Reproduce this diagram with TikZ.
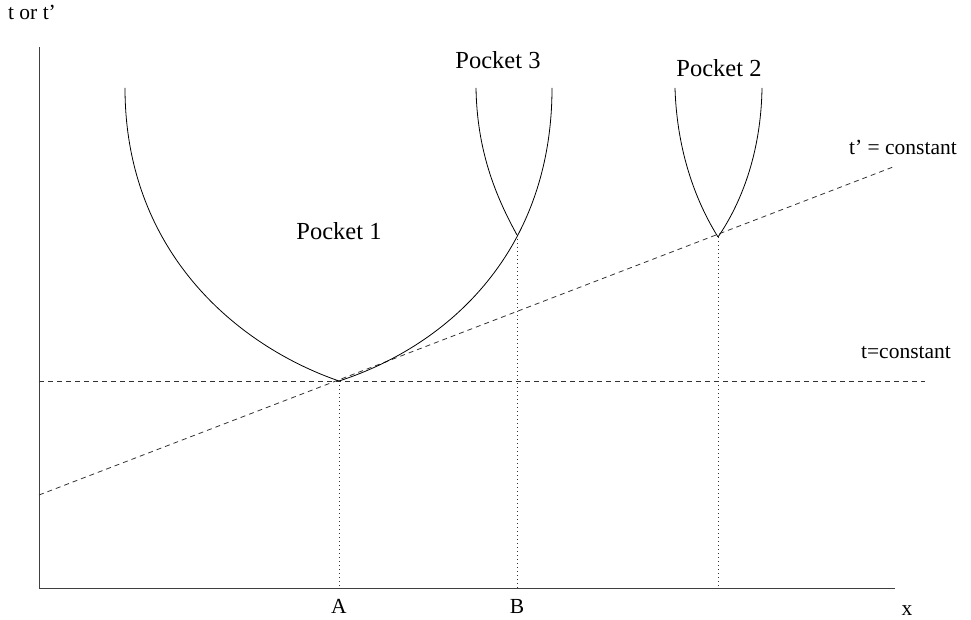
\documentclass[tikz,border=0pt]{standalone}
\usepackage{fontspec}
\setmainfont{Liberation Serif}
\begin{document}
\begin{tikzpicture}[x=1pt,y=-1pt,
  axis/.style={draw=black!75, line width=0.9pt},
  wall/.style={draw=black, line width=0.8pt},
  dashline/.style={draw=black!80, line width=0.8pt, dash pattern=on 5pt off 4pt},
  dotline/.style={draw=black!80, line width=0.8pt, dash pattern=on 0.8pt off 3.2pt},
  small/.style={font=\fontsize{21.5}{24}\selectfont, inner sep=0pt},
  big/.style={font=\fontsize{24.5}{28}\selectfont, inner sep=0pt}]
\useasboundingbox (0,0) rectangle (971,620);
% key points
\coordinate (O) at (39,588);
\coordinate (Ytop) at (39,47);
\coordinate (Xend) at (895,588);
\coordinate (VA) at (339,381);
\coordinate (VB) at (517,235);
\coordinate (V2) at (718,237);
\coordinate (Afoot) at (339,588);
\coordinate (Bfoot) at (517,588);
\coordinate (Cfoot) at (718,588);
\coordinate (tL) at (39,381);
\coordinate (tR) at (925,381);
\coordinate (pL) at (39,495);
\coordinate (pR) at (893,167);
% axes
\draw[axis] (Ytop) -- (O) -- (Xend);
% constant-time lines
\draw[dashline] (tL) -- (tR);
\draw[dashline] (pL) -- (pR);
% dotted drops
\draw[dotline] (VA) -- (Afoot);
\draw[dotline] (VB) -- (Bfoot);
\draw[dotline] (V2) -- (Cfoot);
% Pocket 1
\draw[wall] (125,88) .. controls (125,250) and (235,345) .. (VA);
\draw[wall] (VA) .. controls (450,345) and (552,250) .. (552,88);
% Pocket 3
\draw[wall] (476,88) .. controls (477,150) and (495,195) .. (VB);
% Pocket 2
\draw[wall] (675,88) .. controls (677,155) and (698,205) .. (V2);
\draw[wall] (V2) .. controls (740,205) and (761,155) .. (762,88);
% labels
\node[small] (ylab) at (32,12) {t or t'};
\node[small] (xlab) at (907,611) {x};
\node[small] (alab) at (339,606) {A};
\node[small] (blab) at (517,606) {B};
\node[small] (tlab) at (906,353) {t=constant};
\node[small] (tplab) at (903,147) {t' = constant};
\node[big] (p1) at (339,231) {Pocket 1};
\node[big] (p3) at (498,60) {Pocket 3};
\node[big] (p2) at (719,68) {Pocket 2};
\end{tikzpicture}
\end{document}
